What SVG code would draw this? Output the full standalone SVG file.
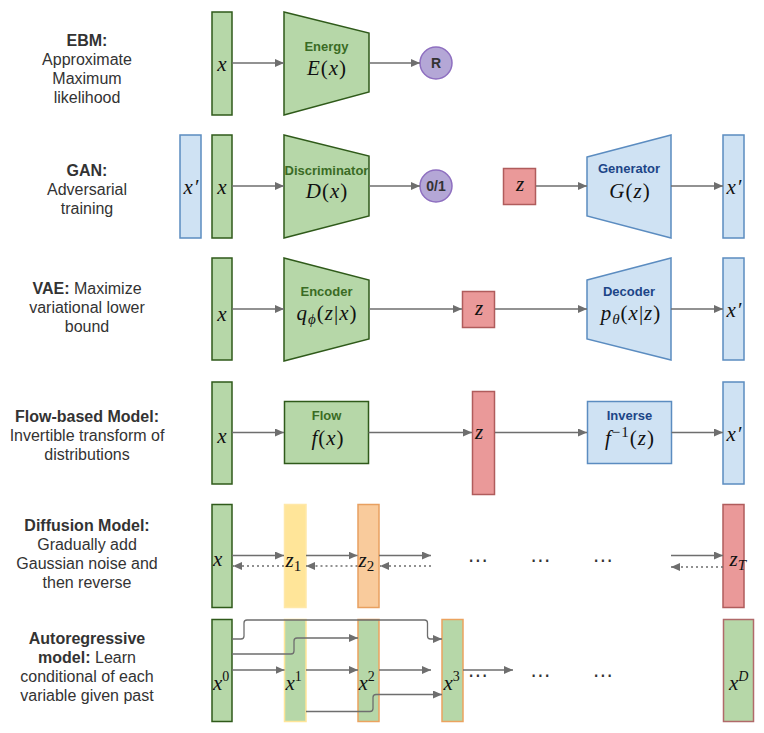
<svg xmlns="http://www.w3.org/2000/svg" width="764" height="733" viewBox="0 0 764 733">
<style>
.lbl{font-family:"Liberation Sans",Arial,sans-serif;font-size:16px;fill:#333;text-anchor:middle}
.b{font-weight:bold}
.gT{font-family:"Liberation Sans",Arial,sans-serif;font-size:13px;font-weight:bold;fill:#3a6b24;text-anchor:middle}
.bT{font-family:"Liberation Sans",Arial,sans-serif;font-size:13px;font-weight:bold;fill:#1c4587;text-anchor:middle}
.m{font-family:"Liberation Serif","Times New Roman",serif;font-size:21px;fill:#111}
.e{letter-spacing:1px}
.mc{text-anchor:middle}
.i{font-style:italic}
.g{fill:#b6d7a8;stroke:#2f5a1a;stroke-width:1.5}
.bl{fill:#cfe2f3;stroke:#5b8cc0;stroke-width:1.5}
.r{fill:#ea9999;stroke:#b05c5c;stroke-width:1.5}
.y{fill:#ffe599;stroke:#ffe8a8;stroke-width:1.5}
.o{fill:#f9cb9c;stroke:#e8a060;stroke-width:1.5}
.gy{fill:#b6d7a8;stroke:#ffe599;stroke-width:1.5}
.go{fill:#b6d7a8;stroke:#eba35f;stroke-width:1.5}
.gr{fill:#b6d7a8;stroke:#b06a6a;stroke-width:1.5}
.p{fill:#b4a7d6;stroke:#8e6fc0;stroke-width:1.5}
.pt{font-family:"Liberation Sans",Arial,sans-serif;font-size:14px;font-weight:bold;fill:#333;text-anchor:middle}
.dots{font-family:"DejaVu Sans",sans-serif;font-size:20px;fill:#333;text-anchor:middle}
.c{fill:none;stroke:#6e6e6e;stroke-width:1.3;marker-end:url(#ah)}
.d{stroke-dasharray:2 3}
</style>
<defs>
<marker id="ah" markerUnits="userSpaceOnUse" markerWidth="10" markerHeight="8" refX="9" refY="4" orient="auto">
<path d="M0,0 L9,4 L0,8 z" fill="#6e6e6e"/>
</marker>
</defs>

<g id="labels">
<text class="lbl" x="87" y="46"><tspan class="b">EBM:</tspan></text>
<text class="lbl" x="87" y="65">Approximate</text>
<text class="lbl" x="87" y="84">Maximum</text>
<text class="lbl" x="87" y="103">likelihood</text>
<text class="lbl" x="87" y="176"><tspan class="b">GAN:</tspan></text>
<text class="lbl" x="87" y="195">Adversarial</text>
<text class="lbl" x="87" y="214">training</text>
<text class="lbl" x="87" y="294"><tspan class="b">VAE:</tspan> Maximize</text>
<text class="lbl" x="87" y="313">variational lower</text>
<text class="lbl" x="87" y="332">bound</text>
<text class="lbl" x="87" y="422"><tspan class="b">Flow-based Model:</tspan></text>
<text class="lbl" x="87" y="441">Invertible transform of</text>
<text class="lbl" x="87" y="460">distributions</text>
<text class="lbl" x="87" y="531"><tspan class="b">Diffusion Model:</tspan></text>
<text class="lbl" x="87" y="550">Gradually add</text>
<text class="lbl" x="87" y="569">Gaussian noise and</text>
<text class="lbl" x="87" y="588">then reverse</text>
<text class="lbl" x="87" y="644"><tspan class="b">Autoregressive</tspan></text>
<text class="lbl" x="87" y="663"><tspan class="b">model:</tspan> Learn</text>
<text class="lbl" x="87" y="682">conditional of each</text>
<text class="lbl" x="87" y="701">variable given past</text>
</g>

<g id="ebm">
<g id="ebm-x"><rect class="g" x="212" y="12" width="20" height="103"/><text class="m mc i" x="222" y="71">x</text></g>
<g id="ebm-energy"><polygon class="g" points="284,12 369,33 369,92 284,115"/>
<text class="gT" x="326.5" y="51">Energy</text>
<text class="m mc e" x="327" y="75"><tspan class="i">E</tspan>(<tspan class="i">x</tspan>)</text></g>
<g id="ebm-r"><circle class="p" cx="436" cy="63" r="16"/><text class="pt" x="436" y="68">R</text></g>
</g>

<g id="gan">
<g id="gan-xp1"><rect class="bl" x="180" y="135" width="21" height="103"/><text class="m mc i e" x="191.5" y="194">x′</text></g>
<g id="gan-x"><rect class="g" x="212" y="135" width="20" height="103"/><text class="m mc i" x="222" y="194">x</text></g>
<g id="gan-disc"><polygon class="g" points="284,135 369,156 369,216 284,238"/>
<text class="gT" x="326.5" y="175">Discriminator</text>
<text class="m mc e" x="327" y="198"><tspan class="i">D</tspan>(<tspan class="i">x</tspan>)</text></g>
<g id="gan-01"><circle class="p" cx="436" cy="186" r="16"/><text class="pt" x="436" y="191">0/1</text></g>
<g id="gan-z"><rect class="r" x="503.5" y="168.5" width="32" height="36"/><text class="m mc i" x="520" y="191">z</text></g>
<g id="gan-gen"><polygon class="bl" points="587,157 671,135 671,238 587,216"/>
<text class="bT" x="629" y="173">Generator</text>
<text class="m mc e" x="630" y="198"><tspan class="i">G</tspan>(<tspan class="i">z</tspan>)</text></g>
<g id="gan-xp2"><rect class="bl" x="723" y="135" width="21" height="103"/><text class="m mc i e" x="734.5" y="194">x′</text></g>
</g>

<g id="vae">
<g id="vae-x"><rect class="g" x="212" y="258" width="20" height="102"/><text class="m mc i" x="222" y="321">x</text></g>
<g id="vae-enc"><polygon class="g" points="284,258 369,280 369,339 284,361"/>
<text class="gT" x="326.5" y="296">Encoder</text>
<text class="m mc e" x="327" y="320"><tspan class="i">q</tspan><tspan class="i" font-size="15" dy="4">ϕ</tspan><tspan dy="-4">(</tspan><tspan class="i">z</tspan>|<tspan class="i">x</tspan>)</text></g>
<g id="vae-z"><rect class="r" x="462.5" y="291.5" width="32" height="36"/><text class="m mc i" x="479" y="315">z</text></g>
<g id="vae-dec"><polygon class="bl" points="587,280 671,258 671,360 587,339"/>
<text class="bT" x="629" y="296">Decoder</text>
<text class="m mc e" x="631" y="320"><tspan class="i">p</tspan><tspan class="i" font-size="15" dy="4">θ</tspan><tspan dy="-4">(</tspan><tspan class="i">x</tspan>|<tspan class="i">z</tspan>)</text></g>
<g id="vae-xp"><rect class="bl" x="723" y="258" width="21" height="102"/><text class="m mc i e" x="734.5" y="317">x′</text></g>
</g>

<g id="flow">
<g id="flow-x"><rect class="g" x="212" y="382" width="20" height="102"/><text class="m mc i" x="222" y="443">x</text></g>
<g id="flow-f"><rect class="g" x="284.5" y="401.5" width="84" height="62"/>
<text class="gT" x="326.5" y="420">Flow</text>
<text class="m mc e" x="328" y="445"><tspan class="i">f</tspan>(<tspan class="i">x</tspan>)</text></g>
<g id="flow-z"><rect class="r" x="472.5" y="391.5" width="22" height="103"/><text class="m mc i" x="479" y="439">z</text></g>
<g id="flow-inv"><rect class="bl" x="587.5" y="401.5" width="84" height="62"/>
<text class="bT" x="629.5" y="420">Inverse</text>
<text class="m mc e" x="630" y="445"><tspan class="i">f</tspan><tspan font-size="15" dy="-8">−1</tspan><tspan dy="8">(</tspan><tspan class="i">z</tspan>)</text></g>
<g id="flow-xp"><rect class="bl" x="723" y="382" width="21" height="102"/><text class="m mc i e" x="734.5" y="441">x′</text></g>
</g>

<g id="diffusion">
<g id="diff-x"><rect class="g" x="212" y="504.5" width="20" height="103"/><text class="m i" x="213" y="566">x</text></g>
<g id="diff-z1"><rect class="y" x="284.5" y="504.5" width="21.5" height="103"/><text class="m" x="285.5" y="567"><tspan class="i">z</tspan><tspan font-size="15" dy="4">1</tspan></text></g>
<g id="diff-z2"><rect class="o" x="358" y="504.5" width="21" height="103"/><text class="m" x="358.5" y="567"><tspan class="i">z</tspan><tspan font-size="15" dy="4">2</tspan></text></g>
<text class="dots" x="478" y="567">⋯</text>
<text class="dots" x="540.5" y="567">⋯</text>
<text class="dots" x="603" y="567">⋯</text>
<g id="diff-zT"><rect class="r" x="723" y="504.5" width="21" height="103"/><text class="m" x="729.5" y="566"><tspan class="i">z</tspan><tspan class="i" font-size="15" dy="4">T</tspan></text></g>
</g>

<g id="autoregressive">
<g id="ar-x0"><rect class="g" x="212" y="619.5" width="20" height="102"/><text class="m" x="213" y="690"><tspan class="i">x</tspan><tspan font-size="14" dy="-9">0</tspan></text></g>
<g id="ar-x1"><rect class="gy" x="284.5" y="619.5" width="21.5" height="102"/><text class="m" x="285.5" y="690"><tspan class="i">x</tspan><tspan font-size="14" dy="-9">1</tspan></text></g>
<g id="ar-x2"><rect class="go" x="358" y="619.5" width="21" height="102"/><text class="m" x="358.5" y="690"><tspan class="i">x</tspan><tspan font-size="14" dy="-9">2</tspan></text></g>
<g id="ar-x3"><rect class="go" x="442" y="619.5" width="21" height="102"/><text class="m" x="443.5" y="690"><tspan class="i">x</tspan><tspan font-size="14" dy="-9">3</tspan></text></g>
<text class="dots" x="478" y="682">⋯</text>
<text class="dots" x="540.5" y="682">⋯</text>
<text class="dots" x="603" y="682">⋯</text>
<g id="ar-xD"><rect class="gr" x="723.5" y="619.5" width="30" height="102"/><text class="m" x="729" y="690"><tspan class="i">x</tspan><tspan class="i" font-size="14" dy="-9">D</tspan></text></g>
</g>

<g id="connectors">
<line class="c" x1="232" y1="63" x2="284" y2="63"/>
<line class="c" x1="369" y1="63" x2="420" y2="63"/>
<line class="c" x1="232" y1="186" x2="284" y2="186"/>
<line class="c" x1="369" y1="186" x2="420" y2="186"/>
<line class="c" x1="536" y1="186" x2="587" y2="186"/>
<line class="c" x1="671" y1="186" x2="723" y2="186"/>
<line class="c" x1="232" y1="309" x2="284" y2="309"/>
<line class="c" x1="369" y1="309" x2="462" y2="309"/>
<line class="c" x1="495" y1="309" x2="587" y2="309"/>
<line class="c" x1="671" y1="309" x2="723" y2="309"/>
<line class="c" x1="232" y1="432.5" x2="284" y2="432.5"/>
<line class="c" x1="368.5" y1="432.5" x2="472" y2="432.5"/>
<line class="c" x1="495" y1="432.5" x2="587" y2="432.5"/>
<line class="c" x1="671.5" y1="432.5" x2="723" y2="432.5"/>
<line class="c" x1="232" y1="555.5" x2="284" y2="555.5"/>
<line class="c" x1="306" y1="555.5" x2="357.5" y2="555.5"/>
<line class="c" x1="379" y1="555.5" x2="431" y2="555.5"/>
<line class="c" x1="671" y1="555.5" x2="723" y2="555.5"/>
<line class="c d" x1="284" y1="566" x2="233" y2="566"/>
<line class="c d" x1="357.5" y1="566" x2="306" y2="566"/>
<line class="c d" x1="431" y1="566" x2="380" y2="566"/>
<line class="c d" x1="723" y1="567" x2="671" y2="567"/>
<path class="c" d="M232,639 H241 Q244,639 244,636 V623 Q244,620 247,620 H424.5 Q427.5,620 427.5,623 V636 Q427.5,639 430.5,639 H442"/>
<path class="c" d="M232,654 H291 Q294,654 294,651 V641 Q294,638 297,638 H358"/>
<line class="c" x1="232" y1="670" x2="284.5" y2="670"/>
<line class="c" x1="306" y1="670" x2="358" y2="670"/>
<line class="c" x1="379" y1="670" x2="431" y2="670"/>
<path class="c" d="M306,711.5 H370 Q373,711.5 373,708.5 V697.5 Q373,694.5 376,694.5 H442"/>
<line class="c" x1="463" y1="670" x2="513" y2="670"/>
</g>
</svg>
